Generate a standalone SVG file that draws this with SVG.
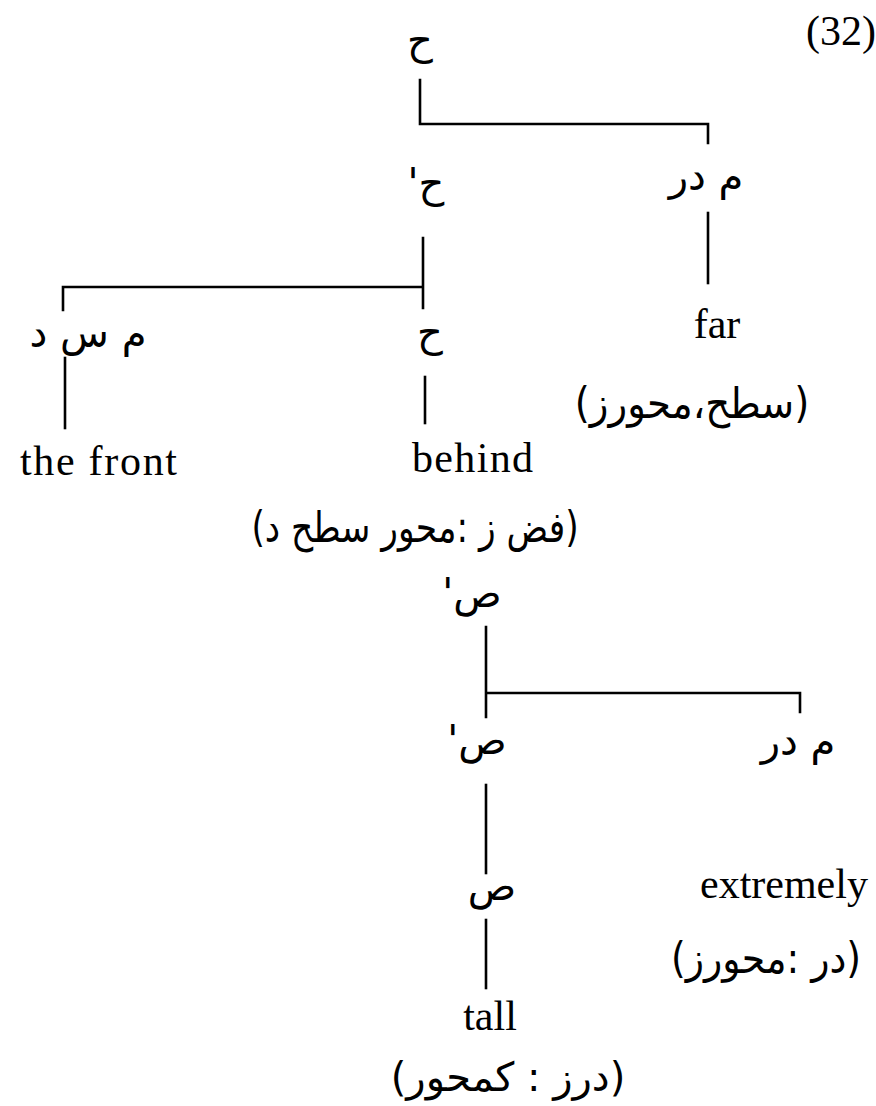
<svg xmlns="http://www.w3.org/2000/svg" width="876" height="1106" viewBox="0 0 876 1106">
<style>
.ar{font-family:"DejaVu Sans","Noto Sans",sans-serif;font-size:40px;fill:#000;direction:rtl;unicode-bidi:embed;text-anchor:middle}
.pa{font-size:42px}
.la{font-family:"Liberation Serif","Times New Roman",serif;font-size:42px;fill:#000}
.e{stroke:#000;stroke-width:2.6;fill:none;stroke-linecap:square}
</style>
<rect width="876" height="1106" fill="#fff"/>
<g id="connectors">
<path class="e" d="M420,80V124H708V143"/>
<path class="e" d="M708,213V283"/>
<path class="e" d="M423,238V308M63,310V287H423"/>
<path class="e" d="M65,358V428"/>
<path class="e" d="M425,377V423"/>
<path class="e" d="M486,627V717M486,693H800V712"/>
<path class="e" d="M486,785V873"/>
<path class="e" d="M486,920V988"/>
</g>
<g id="n-label32"><text class="la" x="841" y="45" text-anchor="middle" font-size="36">(32)</text></g>
<g id="n-h0"><text class="ar" x="420" y="54">ح</text></g>
<g id="n-h1"><text class="ar" x="426" y="197">ح'</text></g>
<g id="n-mdr1"><text class="ar" x="706" y="190">م در</text></g>
<g id="n-far"><text class="la" x="717" y="338" text-anchor="middle">far</text></g>
<g id="n-msd"><text class="ar" x="88" y="347">م س د</text></g>
<g id="n-h2"><text class="ar" x="430" y="346">ح</text></g>
<g id="n-front"><text class="la" x="20" y="475" textLength="157">the front</text></g>
<g id="n-behind"><text class="la" x="412" y="472" textLength="121">behind</text></g>
<g id="n-sath"><text class="ar pa" x="0" y="0" transform="translate(692,418) scale(0.92,1)">(سطح،محورز)</text></g>
<g id="n-fz"><text class="ar pa" x="0" y="0" transform="translate(415,542) scale(0.82,1)">(فض ز :محور سطح د)</text></g>
<g id="n-s2"><text class="ar" x="472" y="607">ص'</text></g>
<g id="n-s1"><text class="ar" x="477" y="754">ص'</text></g>
<g id="n-mdr2"><text class="ar" x="798" y="755">م در</text></g>
<g id="n-s0"><text class="ar" x="492" y="900">ص</text></g>
<g id="n-extremely"><text class="la" x="700" y="898">extremely</text></g>
<g id="n-dr"><text class="ar pa" x="0" y="0" transform="translate(766,973) scale(0.9,1)">(در :محورز)</text></g>
<g id="n-tall"><text class="la" x="490" y="1030" text-anchor="middle">tall</text></g>
<g id="n-drz"><text class="ar" x="508" y="1091" font-size="45">(درز : كمحور)</text></g>
</svg>
